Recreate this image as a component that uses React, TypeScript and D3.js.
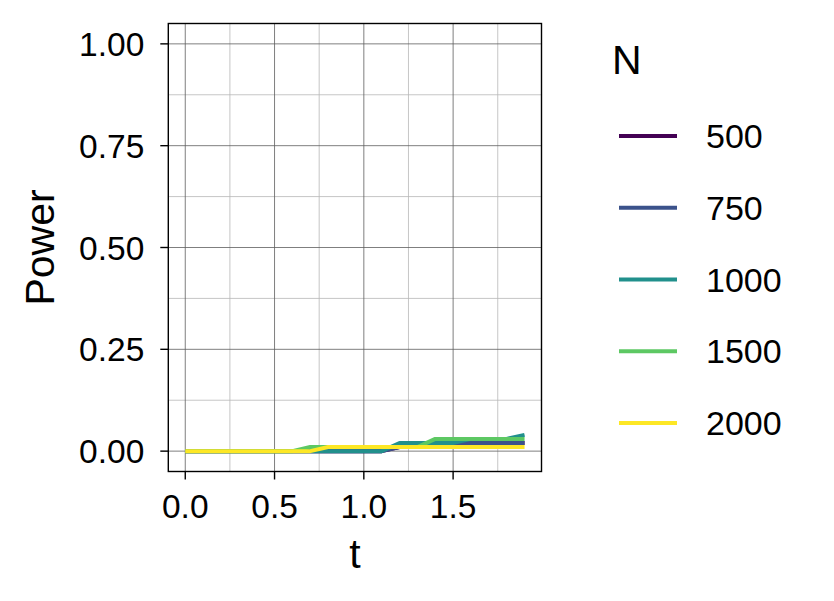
import React from 'react';
import * as d3 from 'd3';

const T = [0, 0.1, 0.2, 0.3, 0.4, 0.5, 0.6, 0.7, 0.8, 0.9, 1.0, 1.1, 1.2, 1.3, 1.4, 1.5, 1.6, 1.7, 1.8, 1.9];
const GROUPS = ['500', '750', '1000', '1500', '2000'];
const COLORS = ['#440154', '#3B528B', '#21908C', '#5DC863', '#FDE725'];
const POWER_500 = [0, 0, 0, 0, 0, 0, 0, 0, 0, 0, 0, 0, 0.01, 0.01, 0.01, 0.01, 0.01, 0.02, 0.02, 0.02];
const POWER_750 = [0, 0, 0, 0, 0, 0, 0, 0, 0, 0, 0, 0, 0.01, 0.02, 0.02, 0.02, 0.02, 0.02, 0.02, 0.02];
const POWER_1000 = [0, 0, 0, 0, 0, 0, 0, 0, 0, 0, 0, 0, 0.02, 0.02, 0.02, 0.02, 0.03, 0.03, 0.03, 0.04];
const POWER_1500 = [0, 0, 0, 0, 0, 0, 0, 0.01, 0.01, 0.01, 0.01, 0.01, 0.01, 0.01, 0.03, 0.03, 0.03, 0.03, 0.03, 0.03];
const POWER_2000 = [0, 0, 0, 0, 0, 0, 0, 0, 0.01, 0.01, 0.01, 0.01, 0.01, 0.01, 0.01, 0.01, 0.01, 0.01, 0.01, 0.01];
const SERIES = [POWER_500, POWER_750, POWER_1000, POWER_1500, POWER_2000];
const X_TICKS = [0, 0.5, 1.0, 1.5];
const Y_TICKS = [0, 0.25, 0.5, 0.75, 1.0];

const FONT = '"Liberation Sans", Arial, Helvetica, sans-serif';

export default function App() {
  const width = 834;
  const height = 601;
  const panel = { left: 168.3, right: 541.5, top: 23.5, bottom: 471.5 };

  const x = d3.scaleLinear().domain([-0.095, 1.995]).range([panel.left, panel.right]);
  const y = d3.scaleLinear().domain([-0.05, 1.05]).range([panel.bottom, panel.top]);

  const xMinor = [0.25, 0.75, 1.25, 1.75];
  const yMinor = [0.125, 0.375, 0.625, 0.875];

  const line = d3.line<number>().x((_, i) => x(T[i])).y(d => y(d));

  const legendY = d3.scalePoint<string>().domain(GROUPS).range([136, 423]);

  return (
    <svg width={width} height={height} style={{ position: 'absolute', left: 0, top: 0, background: 'white' }}
      fontFamily={FONT}>
      <rect width={width} height={height} fill="white" />

      {/* minor grid */}
      {xMinor.map(v => (
        <line key={`xm${v}`} x1={x(v)} x2={x(v)} y1={panel.top} y2={panel.bottom} stroke="#b8b8b8" strokeWidth={0.8} />
      ))}
      {yMinor.map(v => (
        <line key={`ym${v}`} x1={panel.left} x2={panel.right} y1={y(v)} y2={y(v)} stroke="#b8b8b8" strokeWidth={0.8} />
      ))}
      {/* major grid */}
      {X_TICKS.map(v => (
        <line key={`xM${v}`} x1={x(v)} x2={x(v)} y1={panel.top} y2={panel.bottom} stroke="#5e5e5e" strokeWidth={0.8} />
      ))}
      {Y_TICKS.map(v => (
        <line key={`yM${v}`} x1={panel.left} x2={panel.right} y1={y(v)} y2={y(v)} stroke="#5e5e5e" strokeWidth={0.8} />
      ))}

      {/* lines */}
      {SERIES.map((s, i) => (
        <path key={GROUPS[i]} d={line(s) || ''} fill="none" stroke={COLORS[i]} strokeWidth={4} strokeLinejoin="round" />
      ))}

      {/* panel border */}
      <rect x={panel.left} y={panel.top} width={panel.right - panel.left} height={panel.bottom - panel.top}
        fill="none" stroke="black" strokeWidth={1.4} />

      {/* y axis */}
      {Y_TICKS.map(v => (
        <g key={`yt${v}`}>
          <line x1={panel.left - 8} x2={panel.left} y1={y(v)} y2={y(v)} stroke="black" strokeWidth={1.4} />
          <text x={panel.left - 24} y={y(v)} dy="0.36em" textAnchor="end" fontSize={33.5} fill="black">
            {v.toFixed(2)}
          </text>
        </g>
      ))}
      {/* x axis */}
      {X_TICKS.map(v => (
        <g key={`xt${v}`}>
          <line x1={x(v)} x2={x(v)} y1={panel.bottom} y2={panel.bottom + 8} stroke="black" strokeWidth={1.4} />
          <text x={x(v)} y={518} textAnchor="middle" fontSize={33.5} fill="black">{v.toFixed(1)}</text>
        </g>
      ))}
      <text x={(panel.left + panel.right) / 2} y={568} textAnchor="middle" fontSize={41} fill="black">t</text>
      <text transform={`translate(54,${(panel.top + panel.bottom) / 2}) rotate(-90)`} textAnchor="middle"
        fontSize={41} fill="black">Power</text>

      {/* legend */}
      <text x={612} y={74} fontSize={41} fill="black">N</text>
      {GROUPS.map((g, i) => (
        <g key={`lg${g}`}>
          <line x1={619} x2={677} y1={legendY(g)} y2={legendY(g)} stroke={COLORS[i]} strokeWidth={4} />
          <text x={706} y={legendY(g)} dy="0.36em" fontSize={34} fill="black">{g}</text>
        </g>
      ))}
    </svg>
  );
}
